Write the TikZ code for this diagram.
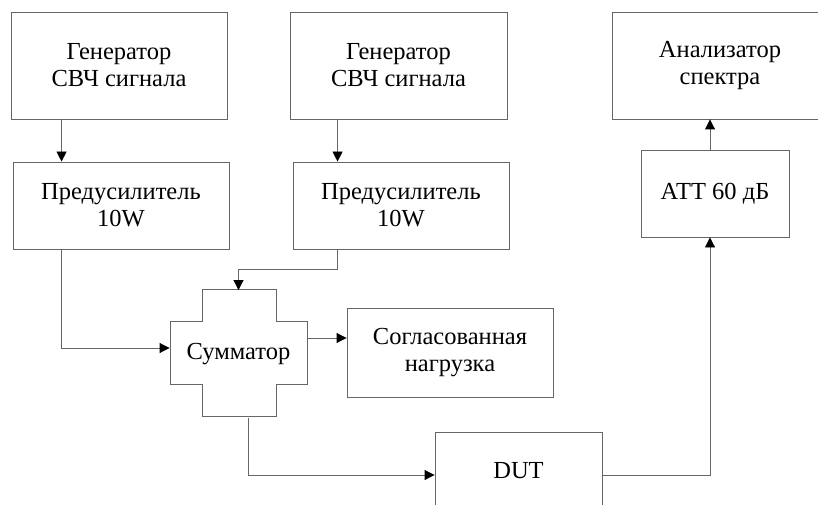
\documentclass[tikz,border=0pt]{standalone}
\usepackage{fontspec}
\setmainfont{Liberation Serif}
\usetikzlibrary{arrows.meta}

\tikzset{
  blk/.style={draw=black!60,line width=0.9pt,align=center,inner sep=0pt,
    font=\rmfamily\fontsize{24.5}{27}\selectfont},
  arr/.style={draw=black!60,line width=0.9pt,
    -{Triangle[length=10pt,width=10pt,color=black]}},
}

\begin{document}
\begin{tikzpicture}[x=1pt,y=-1pt]
\useasboundingbox (0,0) rectangle (818,505);
\begin{scope}
\clip (0,0) rectangle (818,505);

% generators and preamps
\node[blk,minimum width=216pt,minimum height=107pt] (gen1) at (119,65.5) {Генератор\\СВЧ сигнала};
\node[blk,minimum width=216pt,minimum height=87pt] (pre1) at (121,205.5) {Предусилитель\\10W};
\node[blk,minimum width=217pt,minimum height=107pt] (gen2) at (398.5,65.5) {Генератор\\СВЧ сигнала};
\node[blk,minimum width=216pt,minimum height=87pt] (pre2) at (401,205.5) {Предусилитель\\10W};

% analyzer side
\node[blk,minimum width=216pt,minimum height=107pt] (ana) at (720,65.5) {Анализатор\\спектра};
\node[blk,minimum width=148pt,minimum height=87pt] (att) at (715,193.5) {АТТ 60 дБ};

% summator (cross)
\draw[draw=black!60,line width=0.9pt] (202,289) -- (276,289) -- (276,321) -- (307,321) -- (307,384)
  -- (276,384) -- (276,416) -- (202,416) -- (202,384) -- (170,384) -- (170,321) -- (202,321) -- cycle;
\node[blk,draw=none,minimum width=137pt,minimum height=127pt] (sum) at (238.5,354) {Сумматор};

\node[blk,minimum width=206pt,minimum height=89pt] (load) at (450,352.5) {Согласованная\\нагрузка};
\node[blk,minimum width=167pt,minimum height=78pt] (dut) at (518.5,471) {DUT};

% connections
\draw[arr] ([xshift=51pt]gen1.south west) -- ([xshift=51pt]gen1.south west |- pre1.north);
\draw[arr] ([xshift=48pt]gen2.south west) -- ([xshift=48pt]gen2.south west |- pre2.north);
\draw[arr] ([xshift=49pt]pre1.south west) |- ([yshift=6pt]sum.west);
\draw[arr] ([xshift=45pt]pre2.south west) |- ([yshift=21pt]sum.north) -- (sum.north);
\draw[arr] ([yshift=16pt]sum.east) -- ([yshift=16pt]sum.east -| load.west);
\draw[arr] ([xshift=9.5pt]sum.south) |- ([yshift=-4pt]dut.west);
\draw[arr] ([yshift=-4pt]dut.east) -| ([xshift=-5pt]att.south);
\draw[arr] ([xshift=-5pt]att.north) -- ([xshift=-5pt]att.north |- ana.south);
\end{scope}
\end{tikzpicture}
\end{document}
